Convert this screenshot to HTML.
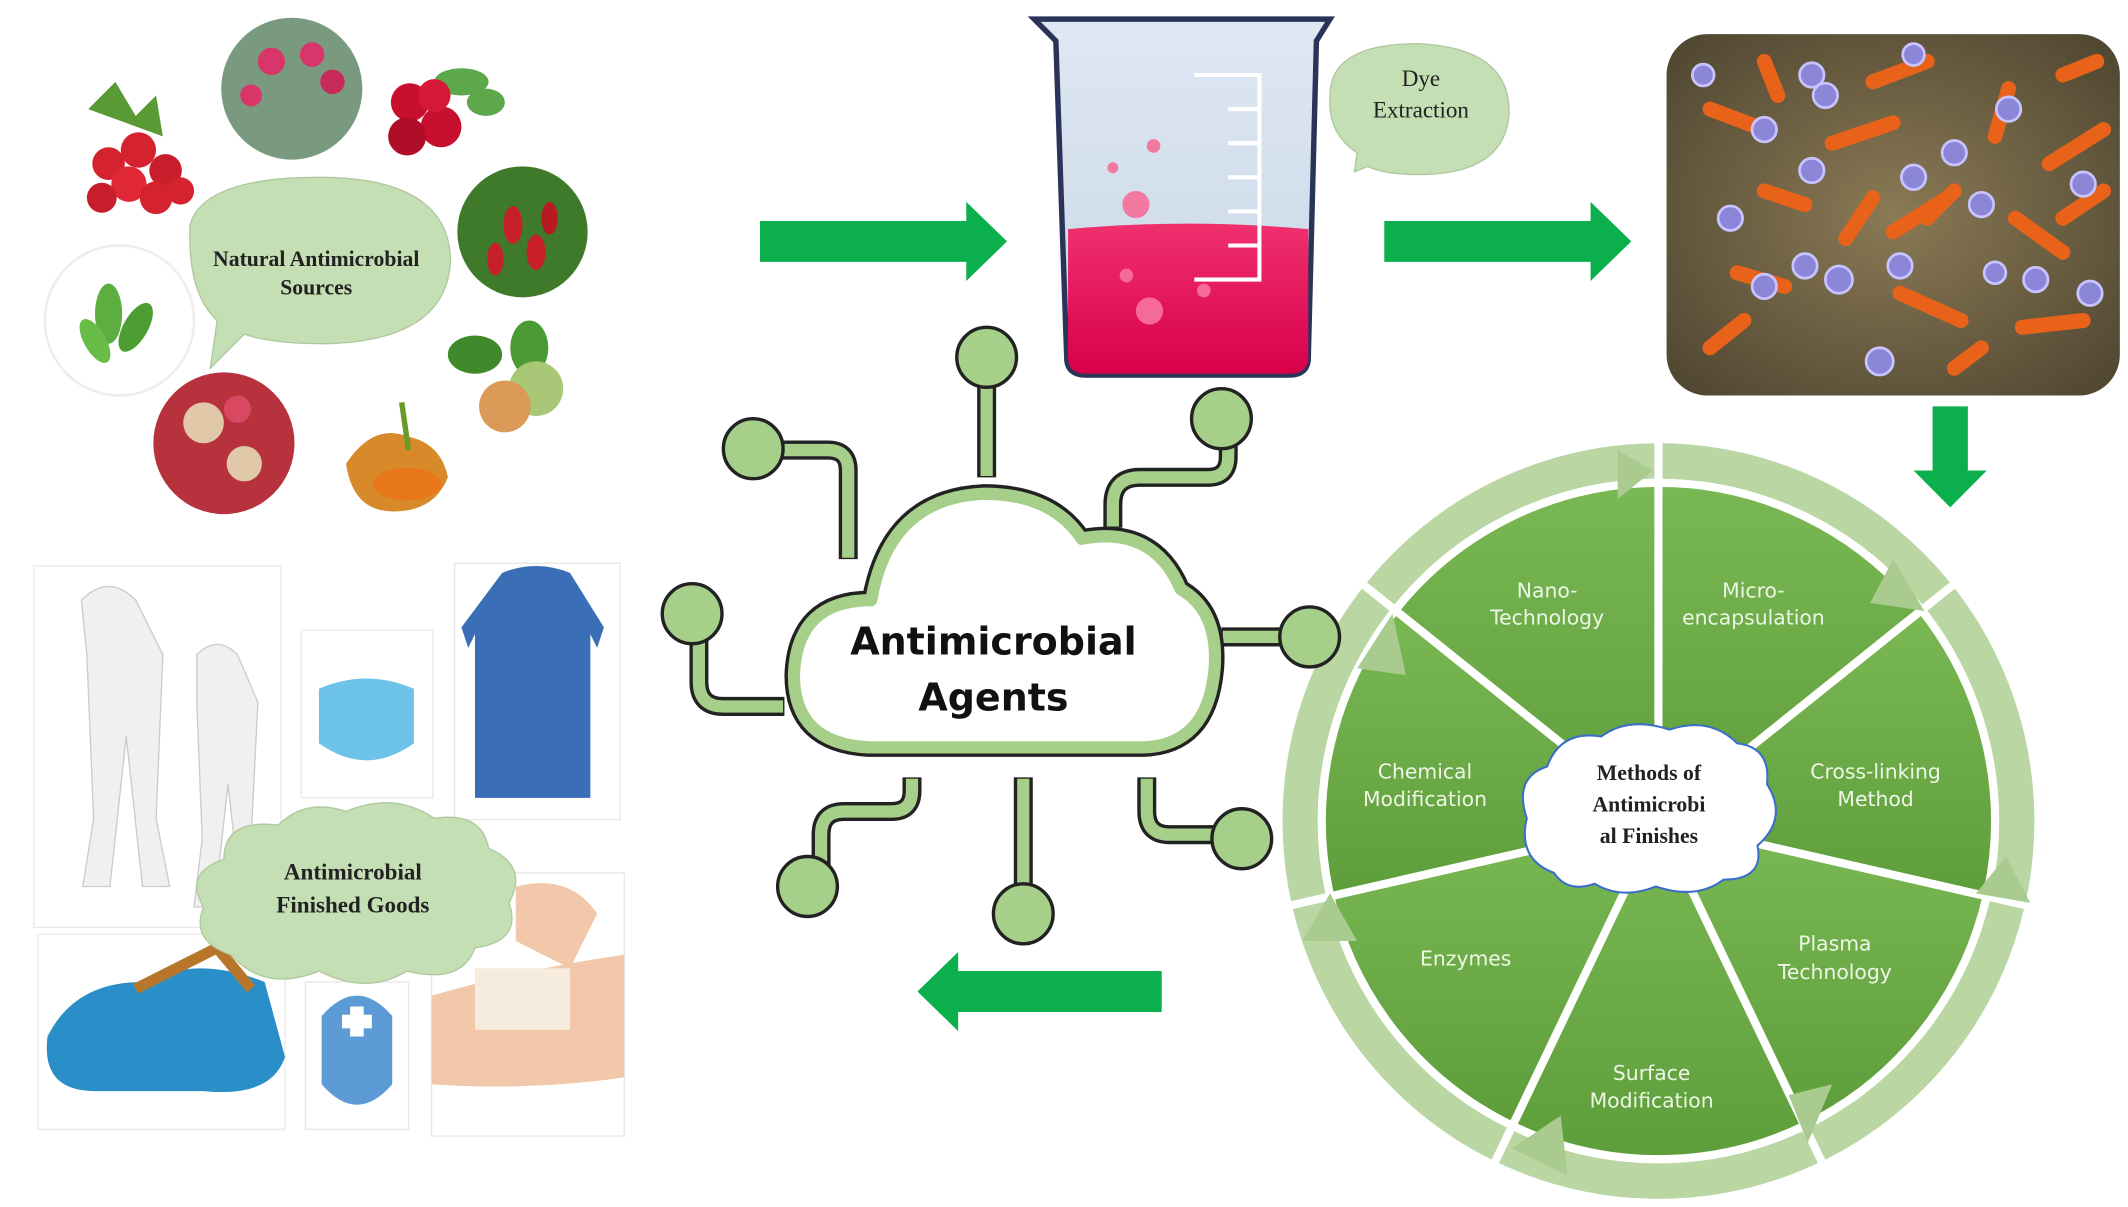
<!DOCTYPE html>
<html><head><meta charset="utf-8"><style>
html,body{margin:0;padding:0;background:#fff;}
svg{display:block;}
</style></head><body>
<svg width="2128" height="1207" viewBox="0 0 1568 885" preserveAspectRatio="none" xmlns="http://www.w3.org/2000/svg">
<defs>
<linearGradient id="wg" x1="0" y1="0" x2="0" y2="1"><stop offset="0" stop-color="#7ab854"/><stop offset="1" stop-color="#5e9e3a"/></linearGradient>
<linearGradient id="bk" x1="0" y1="0" x2="0" y2="1"><stop offset="0" stop-color="#dfe8f3"/><stop offset="1" stop-color="#c8d6e6"/></linearGradient>
<linearGradient id="pk" x1="0" y1="0" x2="0" y2="1"><stop offset="0" stop-color="#f0306e"/><stop offset="1" stop-color="#d8004a"/></linearGradient>
<radialGradient id="bac" cx="0.5" cy="0.5" r="0.7"><stop offset="0" stop-color="#8a7a55"/><stop offset="1" stop-color="#4e4530"/></radialGradient>
</defs>

<!-- fruits -->
<g>
<circle cx="215" cy="65" r="52" fill="#7a9a80"/><circle cx="200" cy="45" r="10" fill="#d8356a"/><circle cx="230" cy="40" r="9" fill="#d8356a"/><circle cx="245" cy="60" r="9" fill="#c82a5a"/><circle cx="185" cy="70" r="8" fill="#d8356a"/>
<path d="M65 80 l20 -20 l15 25 l15 -15 l5 30 z" fill="#5a9a35"/>
<circle cx="80" cy="120" r="12" fill="#d5222f"/><circle cx="102" cy="110" r="13" fill="#d5222f"/><circle cx="122" cy="125" r="12" fill="#c81e2b"/><circle cx="95" cy="135" r="13" fill="#e02836"/><circle cx="115" cy="145" r="12" fill="#d5222f"/><circle cx="75" cy="145" r="11" fill="#c81e2b"/><circle cx="133" cy="140" r="10" fill="#d5222f"/>
<ellipse cx="340" cy="60" rx="20" ry="10" fill="#5ca84a"/><ellipse cx="358" cy="75" rx="14" ry="10" fill="#5ca84a"/>
<circle cx="302" cy="75" r="14" fill="#c8102e"/><circle cx="325" cy="93" r="15" fill="#c8102e"/><circle cx="300" cy="100" r="14" fill="#b00e28"/><circle cx="320" cy="70" r="12" fill="#d41a36"/>
<circle cx="385" cy="170" r="48" fill="#3f7a2a"/><ellipse cx="378" cy="165" rx="7" ry="14" fill="#c8202a"/><ellipse cx="395" cy="185" rx="7" ry="13" fill="#c8202a"/><ellipse cx="365" cy="190" rx="6" ry="12" fill="#c8202a"/><ellipse cx="405" cy="160" rx="6" ry="12" fill="#b81a22"/>
<circle cx="88" cy="235" r="55" fill="#fff" stroke="#eee" stroke-width="2"/><ellipse cx="80" cy="230" rx="10" ry="22" fill="#5cae3e"/><ellipse cx="100" cy="240" rx="9" ry="20" fill="#4d9e32" transform="rotate(30 100 240)"/><ellipse cx="70" cy="250" rx="8" ry="18" fill="#6abc48" transform="rotate(-30 70 250)"/>
<circle cx="165" cy="325" r="52" fill="#b8323e"/><circle cx="150" cy="310" r="15" fill="#e0c8a8"/><circle cx="180" cy="340" r="13" fill="#e0c8a8"/><circle cx="175" cy="300" r="10" fill="#d84860"/>
<path d="M255 340 q20 -30 45 -20 q25 5 30 30 q-10 25 -40 25 q-30 0 -35 -35z" fill="#d88a2a"/><ellipse cx="300" cy="355" rx="25" ry="12" fill="#e8761a"/><path d="M296 295 l5 35" stroke="#6a9a2a" stroke-width="4"/>
<ellipse cx="350" cy="260" rx="20" ry="14" fill="#3f8a2a"/><ellipse cx="390" cy="255" rx="14" ry="20" fill="#4a9a35"/><circle cx="395" cy="285" r="20" fill="#a8c878"/><circle cx="372" cy="298" r="19" fill="#dc9a58"/>
</g>
<!-- natural bubble -->
<path d="M140 165 Q150 130 235 130 Q330 130 332 190 Q330 250 240 252 Q200 252 180 245 L155 270 L160 235 Q138 215 140 165Z" fill="#c5dfb5" stroke="#b0c8a0" stroke-width="1"/>
<text x="233" y="195" text-anchor="middle" font-family="Liberation Serif, serif" font-weight="bold" font-size="16" fill="#222">Natural Antimicrobial</text>
<text x="233" y="216" text-anchor="middle" font-family="Liberation Serif, serif" font-weight="bold" font-size="16" fill="#222">Sources</text>

<!-- arrows -->
<path d="M560 162 H712 V148 L742 177 L712 206 V192 H560Z" fill="#0bb04d"/>
<path d="M1020 162 H1172 V148 L1202 177 L1172 206 V192 H1020Z" fill="#0bb04d"/>
<path d="M1424 298 H1450 V345 H1464 L1437 372 L1410 345 H1424Z" fill="#0bb04d"/>
<path d="M856 712 H706 V698 L676 727 L706 756 V742 H856Z" fill="#0bb04d"/>

<!-- beaker -->
<path d="M762 14 H980 L970 30 L964 262 Q964 275 950 275 H800 Q786 275 786 262 L778 30Z" fill="url(#bk)" stroke="#2a3458" stroke-width="4"/>
<path d="M787 168 Q875 160 964 168 L964 262 Q964 274 950 274 H800 Q787 274 787 262Z" fill="url(#pk)"/>
<path d="M880 55 H928 V205 H880 M905 80 H928 M905 105 H928 M905 130 H928 M905 155 H928 M905 180 H928" fill="none" stroke="#fff" stroke-width="3"/>
<circle cx="837" cy="150" r="10" fill="#f27aa0"/><circle cx="850" cy="107" r="5" fill="#f27aa0"/><circle cx="820" cy="123" r="4" fill="#f27aa0"/><circle cx="847" cy="228" r="10" fill="#f56a98"/><circle cx="887" cy="213" r="5" fill="#f56a98"/><circle cx="830" cy="202" r="5" fill="#f56a98"/>
<!-- dye bubble -->
<path d="M980 70 Q980 32 1045 32 Q1112 35 1112 82 Q1110 128 1045 128 Q1020 128 1008 122 L998 126 L1000 112 Q978 98 980 70Z" fill="#c5dfb5" stroke="#b0c8a0"/>
<text x="1047" y="63" text-anchor="middle" font-family="Liberation Serif, serif" font-size="17" fill="#222">Dye</text>
<text x="1047" y="86" text-anchor="middle" font-family="Liberation Serif, serif" font-size="17" fill="#222">Extraction</text>

<!-- bacteria image -->
<rect x="1228" y="25" width="334" height="265" rx="30" fill="url(#bac)"/>
<g stroke="#e8621a" stroke-width="11" stroke-linecap="round">
<path d="M1300 45 l10 25"/><path d="M1380 60 l40 -15"/><path d="M1520 55 l25 -10"/><path d="M1260 80 l40 15"/><path d="M1350 105 l45 -15"/><path d="M1470 100 l10 -35"/><path d="M1510 120 l40 -25"/><path d="M1300 140 l30 10"/><path d="M1440 140 l-20 20"/><path d="M1360 175 l20 -30"/><path d="M1395 170 l40 -25"/><path d="M1485 160 l35 25"/><path d="M1520 160 l30 -20"/><path d="M1280 200 l35 10"/><path d="M1400 215 l45 20"/><path d="M1490 240 l45 -5"/><path d="M1260 255 l25 -20"/><path d="M1440 270 l20 -15"/>
</g>
<g fill="#8c86d8" stroke="#c8c4ff" stroke-width="2">
<circle cx="1255" cy="55" r="8"/><circle cx="1335" cy="55" r="9"/><circle cx="1410" cy="40" r="8"/><circle cx="1345" cy="70" r="9"/><circle cx="1480" cy="80" r="9"/><circle cx="1300" cy="95" r="9"/><circle cx="1440" cy="112" r="9"/><circle cx="1335" cy="125" r="9"/><circle cx="1410" cy="130" r="9"/><circle cx="1535" cy="135" r="9"/><circle cx="1275" cy="160" r="9"/><circle cx="1460" cy="150" r="9"/><circle cx="1330" cy="195" r="9"/><circle cx="1355" cy="205" r="10"/><circle cx="1300" cy="210" r="9"/><circle cx="1500" cy="205" r="9"/><circle cx="1540" cy="215" r="9"/><circle cx="1385" cy="265" r="10"/><circle cx="1470" cy="200" r="8"/><circle cx="1400" cy="195" r="9"/>
</g>

<!-- wheel (center 1222,602) -->
<circle cx="1222" cy="602" r="264" fill="none" stroke="#b9d6a3" stroke-width="26"/>
<g fill="url(#wg)" stroke="#fff" stroke-width="6" stroke-linejoin="round">
<path d="M1222 602 L1222 354 A248 248 0 0 1 1415.9 447.4Z"/>
<path d="M1222 602 L1415.9 447.4 A248 248 0 0 1 1463.8 657.2Z"/>
<path d="M1222 602 L1463.8 657.2 A248 248 0 0 1 1329.6 825.4Z"/>
<path d="M1222 602 L1329.6 825.4 A248 248 0 0 1 1114.4 825.4Z"/>
<path d="M1222 602 L1114.4 825.4 A248 248 0 0 1 980.2 657.2Z"/>
<path d="M1222 602 L980.2 657.2 A248 248 0 0 1 1028.1 447.4Z"/>
<path d="M1222 602 L1028.1 447.4 A248 248 0 0 1 1222 354Z"/>
</g>
<g stroke="#fff" stroke-width="6">
<path d="M1222 354 V320"/><path d="M1415.9 447.4 L1442.5 426.2"/><path d="M1463.8 657.2 L1497 664.8"/><path d="M1329.6 825.4 L1344.4 856"/><path d="M1114.4 825.4 L1099.6 856"/><path d="M980.2 657.2 L947 664.8"/><path d="M1028.1 447.4 L1001.5 426.2"/>
</g>
<g fill="#a9cb90">
<path d="M1192 330 L1218 345 L1192 366 Z"/><path d="M1395 410 L1418 448 L1378 442Z"/><path d="M1478 628 L1496 662 L1456 655Z"/><path d="M1350 795 L1332 838 L1318 803Z"/><path d="M1150 818 L1114 842 L1155 862Z"/><path d="M960 690 L980 655 L1000 690Z"/><path d="M1000 490 L1026 450 L1036 495Z"/>
</g>
<g font-family="DejaVu Sans, sans-serif" font-size="15" fill="#eef6e6" text-anchor="middle">
<text x="1140" y="438">Nano-</text><text x="1140" y="458">Technology</text>
<text x="1292" y="438">Micro-</text><text x="1292" y="458">encapsulation</text>
<text x="1382" y="571">Cross-linking</text><text x="1382" y="591">Method</text>
<text x="1352" y="697">Plasma</text><text x="1352" y="718">Technology</text>
<text x="1217" y="792">Surface</text><text x="1217" y="812">Modification</text>
<text x="1080" y="708">Enzymes</text>
<text x="1050" y="571">Chemical</text><text x="1050" y="591">Modification</text>
</g>
<path d="M1145 640 Q1118 630 1125 600 Q1115 570 1140 562 Q1150 535 1180 540 Q1200 525 1230 535 Q1260 525 1280 545 Q1305 548 1302 575 Q1318 600 1295 620 Q1300 645 1270 645 Q1250 660 1220 650 Q1195 660 1175 648 Q1155 655 1145 640Z" fill="#fff" stroke="#3a6ec8" stroke-width="1.5"/>
<g font-family="Liberation Serif, serif" font-weight="bold" font-size="16" fill="#222" text-anchor="middle">
<text x="1215" y="572">Methods of</text><text x="1215" y="595">Antimicrobi</text><text x="1215" y="618">al Finishes</text>
</g>

<!-- circuit -->
<g fill="none" stroke-linecap="butt">
<g stroke="#222" stroke-width="14">
<path d="M727 262 V350"/><path d="M558 330 H610 Q625 330 625 345 V410"/><path d="M905 310 V335 Q905 350 890 350 H840 Q820 350 820 370 V387"/><path d="M515 450 V500 Q515 518 533 518 H578"/><path d="M900 467 H963"/><path d="M672 570 V580 Q672 595 657 595 H622 Q605 595 605 612 V650"/><path d="M754 570 V670"/><path d="M845 570 V595 Q845 612 862 612 H915"/>
</g>
<g stroke="#a6cf8a" stroke-width="9">
<path d="M727 262 V349"/><path d="M558 330 H610 Q625 330 625 345 V409"/><path d="M905 310 V335 Q905 350 890 350 H840 Q820 350 820 370 V386"/><path d="M515 450 V500 Q515 518 533 518 H577"/><path d="M901 467 H963"/><path d="M672 571 V580 Q672 595 657 595 H622 Q605 595 605 612 V650"/><path d="M754 571 V670"/><path d="M845 571 V595 Q845 612 862 612 H915"/>
</g>
</g>
<g fill="#a6cf8a" stroke="#222" stroke-width="2.5">
<circle cx="727" cy="262" r="22"/><circle cx="555" cy="329" r="22"/><circle cx="900" cy="307" r="22"/><circle cx="510" cy="450" r="22"/><circle cx="965" cy="467" r="22"/><circle cx="595" cy="650" r="22"/><circle cx="754" cy="670" r="22"/><circle cx="915" cy="615" r="22"/>
</g>
<!-- agents cloud -->
<path d="M640 548 Q585 545 585 495 Q587 440 642 440 Q655 365 725 362 Q775 362 797 395 Q850 385 870 432 Q898 448 895 490 Q890 548 840 548Z" fill="#fff" stroke="#222" stroke-width="14" stroke-linejoin="round"/>
<path d="M640 548 Q585 545 585 495 Q587 440 642 440 Q655 365 725 362 Q775 362 797 395 Q850 385 870 432 Q898 448 895 490 Q890 548 840 548Z" fill="#fff" stroke="#a6cf8a" stroke-width="9" stroke-linejoin="round"/>
<text x="732" y="480" text-anchor="middle" font-family="DejaVu Sans, sans-serif" font-weight="bold" font-size="28" fill="#111">Antimicrobial</text>
<text x="732" y="521" text-anchor="middle" font-family="DejaVu Sans, sans-serif" font-weight="bold" font-size="28" fill="#111">Agents</text>

<!-- finished goods images -->
<rect x="25" y="415" width="182" height="265" fill="#fff" stroke="#e8e8e8"/>
<path d="M60 440 q20 -20 40 0 l20 40 l-5 120 l10 50 h-20 l-12 -110 l-12 110 h-20 l8 -50 l-5 -120z" fill="#f0f0f0" stroke="#ccc"/>
<path d="M145 480 q15 -15 30 0 l15 35 l-5 100 l8 50 h-15 l-10 -90 l-10 90 h-15 l6 -50 l-4 -100z" fill="#f0f0f0" stroke="#ccc"/>
<rect x="222" y="462" width="97" height="123" fill="#fff" stroke="#e8e8e8"/>
<path d="M235 505 q35 -15 70 0 v40 q-35 25 -70 0z" fill="#6ec3ea"/>
<rect x="335" y="413" width="122" height="188" fill="#fff" stroke="#e8e8e8"/>
<path d="M370 420 q25 -10 50 0 l25 40 l-5 15 l-5 -10 v120 h-85 v-120 l-5 10 l-5 -15z" fill="#3a6fb8"/>
<rect x="28" y="685" width="182" height="143" fill="#fff" stroke="#e8e8e8"/>
<path d="M35 760 q20 -40 70 -40 q40 -20 90 0 l15 55 q-10 30 -60 25 h-80 q-40 0 -35 -40z" fill="#2a8ec8"/>
<path d="M100 725 l60 -30 l25 30" fill="none" stroke="#b8762a" stroke-width="8"/>
<rect x="225" y="720" width="76" height="108" fill="#fff" stroke="#e8e8e8"/>
<path d="M237 745 q26 -30 52 0 v50 q-26 30 -52 0z" fill="#5d9bd6"/><rect x="258" y="738" width="10" height="22" fill="#fff"/><rect x="252" y="744" width="22" height="10" fill="#fff"/>
<rect x="318" y="640" width="142" height="193" fill="#fff" stroke="#e8e8e8"/>
<path d="M318 730 q70 -20 142 -30 v90 q-70 10 -142 5z" fill="#f1c8aa"/><rect x="350" y="710" width="70" height="45" fill="#f6ecde"/><path d="M380 650 q40 -10 60 20 l-20 40 l-40 -20z" fill="#f1c8aa"/>
<!-- goods cloud -->
<path d="M170 700 Q140 690 150 665 Q135 640 165 630 Q165 600 205 605 Q225 585 255 595 Q290 580 320 600 Q355 595 360 622 Q390 635 375 662 Q385 690 350 695 Q340 722 300 712 Q270 730 235 712 Q195 728 170 700Z" fill="#c5dfb5" stroke="#b0c8a0"/>
<text x="260" y="645" text-anchor="middle" font-family="Liberation Serif, serif" font-weight="bold" font-size="17" fill="#222">Antimicrobial</text>
<text x="260" y="669" text-anchor="middle" font-family="Liberation Serif, serif" font-weight="bold" font-size="17" fill="#222">Finished Goods</text>
</svg>
</body></html>
